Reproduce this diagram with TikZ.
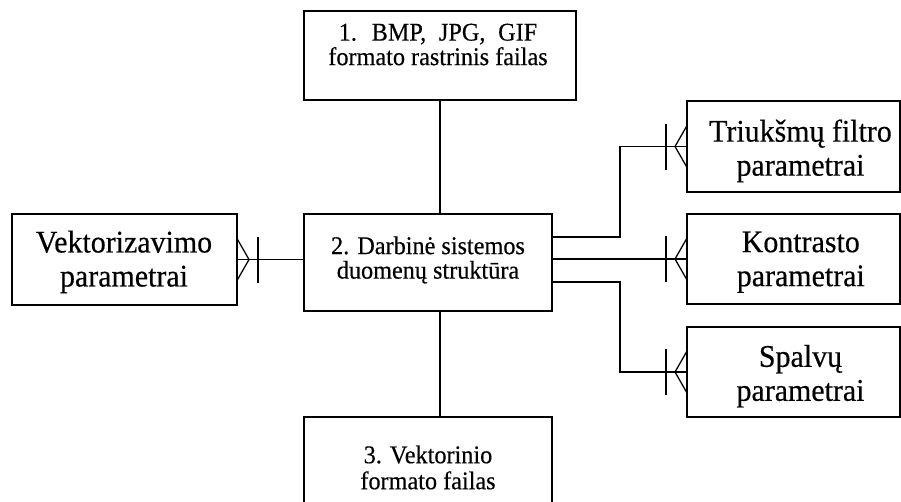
\documentclass[tikz,border=0pt]{standalone}
\usepackage{fontspec}
\setmainfont{Liberation Serif}
\newfontfamily\tallserif[FakeStretch=0.95, FakeBold=0.4]{Liberation Serif}
\begin{document}
\begin{tikzpicture}[x=1pt, y=-1pt, line width=1.3pt,
  box/.style 2 args={draw, inner sep=0pt, outer sep=0pt,
    minimum width=#1pt, minimum height=#2pt},
  smalltext/.style={align=center, inner sep=0pt,
    font=\tallserif\fontsize{25.5}{24.5}\selectfont},
  bigtext/.style={align=center, inner sep=0pt,
    font=\tallserif\fontsize{31.5}{34}\selectfont},
  crowfoot/.pic={
    \draw (0,-21) -- (-12,0) -- (0,21);
    \draw (-21,-23) -- (-21,23);
  }]
  \useasboundingbox (0,0) rectangle (901,501);

  % entity boxes
  \node[box={272}{89}]  (top)  at (440,55.5)   {};
  \node[box={248}{97}]  (mid)  at (428,262.5)  {};
  \node[box={248}{130}] (bot)  at (428,482)    {};
  \node[box={225}{91}]  (left) at (124.5,259.5){};
  \node[box={213}{91}]  (r1)   at (793.5,146.5){};
  \node[box={213}{90}]  (r2)   at (793.5,259)  {};
  \node[box={213}{90}]  (r3)   at (793.5,372)  {};

  % box captions
  \node[smalltext] (ttop)  at (438,44.5)
    {{\spaceskip=0.5em plus 0.1em 1. BMP, JPG, GIF}\\formato rastrinis failas};
  \node[smalltext] (tmid)  at (428,260)   {2. Darbinė sistemos\\duomenų struktūra};
  \node[smalltext, font=\tallserif\fontsize{25.5}{26}\selectfont]
    (tbot)  at (428,467.5) {3. Vektorinio\\formato failas};
  \node[bigtext]   (tleft) at (124,261.9) {Vektorizavimo\\parametrai};
  \node[bigtext]   (tr1)   at (800.5,150.9) {Triukšmų filtro\\parametrai};
  \node[bigtext]   (tr2)   at (800.8,262.2) {Kontrasto\\parametrai};
  \node[bigtext]   (tr3)   at (800.5,376.2) {Spalvų\\parametrai};

  % plain links
  \draw (top.south) -- (top.south |- mid.north);
  \draw (top.south |- mid.south) -- (top.south |- bot.north);

  % one-to-many links
  \draw (left.east) -- (left.east -| mid.west);
  \pic[xscale=-1] at (left.east) {crowfoot};

  \draw ([yshift=25.5pt]mid.east) -- ++(68,0) |- (r1.west);
  \pic at (r1.west) {crowfoot};

  \draw (r2.west -| mid.east) -- (r2.west);
  \pic at (r2.west) {crowfoot};

  \draw ([yshift=-19.5pt]mid.east) -- ++(68,0) |- (r3.west);
  \pic at (r3.west) {crowfoot};
\end{tikzpicture}
\end{document}
